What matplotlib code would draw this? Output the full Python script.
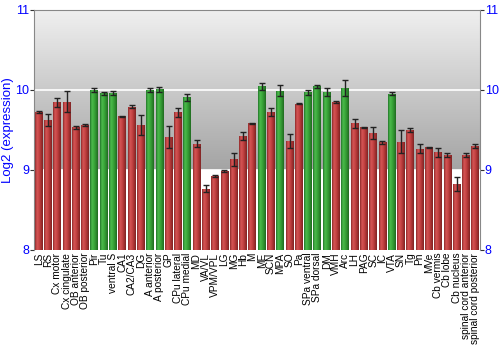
import numpy as np
import matplotlib
matplotlib.use('Agg')
import matplotlib.pyplot as plt
from matplotlib.colors import LinearSegmentedColormap

regions = ['LS', 'RS', 'Cx motor', 'Cx cingulate', 'OB anterior', 'OB posterior', 'Pir', 'Tu',
           'ventral S', 'CA1', 'CA2/CA3', 'DG', 'A anterior', 'A posterior', 'GP', 'CPu lateral',
           'CPu medial', 'MD', 'VA/VL', 'VPM/VPL', 'LG', 'MG', 'Hb', 'M', 'ME', 'SCN', 'MPA', 'SO',
           'Pa', 'SPa ventral', 'SPa dorsal', 'DM', 'VMH', 'Arc', 'LH', 'PAG', 'SC', 'IC', 'VTA',
           'SN', 'Tg', 'Pn', 'MVe', 'Cb vermis', 'Cb lobe', 'Cb nucleus', 'spinal cord anterior',
           'spinal cord posterior']
expr = [9.725, 9.617, 9.842, 9.85, 9.533, 9.558, 9.992, 9.958,
        9.958, 9.667, 9.79, 9.558, 10.0, 10.008, 9.408, 9.717,
        9.908, 9.325, 8.767, 8.925, 8.983, 9.133, 9.417, 9.583, 10.042, 9.72, 9.99, 9.36,
        9.825, 9.967, 10.042, 9.975, 9.846, 10.025, 9.583, 9.53, 9.458, 9.346, 9.95,
        9.354, 9.5, 9.263, 9.283, 9.217, 9.183, 8.825, 9.18,
        9.3]
err = [0.0125, 0.075, 0.056, 0.13, 0.02, 0.0125, 0.025, 0.02,
       0.025, 0.005, 0.017, 0.125, 0.025, 0.033, 0.14, 0.058,
       0.042, 0.042, 0.042, 0.017, 0.0125, 0.079, 0.05, 0.005, 0.042, 0.05, 0.067, 0.083,
       0.008, 0.03, 0.02, 0.05, 0.0125, 0.104, 0.058, 0.008, 0.075, 0.017, 0.02,
       0.14, 0.025, 0.058, 0.008, 0.05, 0.025, 0.083, 0.025,
       0.025]
green = ['Pir', 'Tu', 'ventral S', 'A anterior', 'A posterior', 'CPu medial', 'ME', 'MPA',
         'SPa ventral', 'SPa dorsal', 'DM', 'Arc', 'VTA']

plt.rcParams['font.family'] = ['Liberation Sans', 'DejaVu Sans']
fig = plt.figure(figsize=(5, 3.5), dpi=100)
ax = fig.add_axes([0.068, 0.286, 0.892, 0.686])

x = np.arange(len(regions))
ax.set_xlim(-0.5, len(regions) - 0.5)
ax.set_ylim(8, 11)

# gray gradient band between 9 and 11, white below
bg = LinearSegmentedColormap.from_list('bg', ['#a4a4a4', '#f0f0f0'])
ax.imshow(np.linspace(0, 1, 100).reshape(-1, 1), cmap=bg, origin='lower', aspect='auto',
          extent=[-0.5, len(regions) - 0.5, 9, 11], zorder=0)

red_cm = LinearSegmentedColormap.from_list('r', ['#8e2a2a', '#d45454', '#c84646', '#a83232', '#7e2424'])
grn_cm = LinearSegmentedColormap.from_list('g', ['#22762a', '#4cba4c', '#3caa3c', '#2e8e2e', '#206a20'])

bars = ax.bar(x, np.array(expr) - 8, bottom=8, width=0.84, color='none', zorder=2)
grad = np.linspace(0, 1, 64).reshape(1, -1)
for name, b in zip(regions, bars):
    cm = grn_cm if name in green else red_cm
    x0, y0 = b.get_x(), b.get_y()
    im = ax.imshow(grad, cmap=cm, aspect='auto', zorder=2,
                   extent=[x0, x0 + b.get_width(), y0, y0 + b.get_height()])
    im.set_clip_path(b)

ax.errorbar(x, expr, yerr=err, fmt='none', ecolor='#222222', elinewidth=1, capsize=2.5,
            capthick=1, zorder=4)

for yv in [9, 10]:
    ax.axhline(yv, color='white', lw=1.2, zorder=1)

ax.set_yticks([8, 9, 10, 11])
ax.tick_params(axis='y', which='both', left=True, right=True, labelleft=True, labelright=True,
               labelcolor='blue', labelsize=9, color='#333333', length=3, pad=0.5)
ax.set_xticks(x)
ax.set_xticklabels(regions, rotation=90, fontsize=7.3)
ax.tick_params(axis='x', length=0, pad=2)
ax.set_ylabel('Log2 (expression)', color='blue', fontsize=9.5, labelpad=1)
for s in ax.spines.values():
    s.set_color('#888888')
ax.spines['bottom'].set_visible(False)

fig.savefig('out.png', dpi=100)
